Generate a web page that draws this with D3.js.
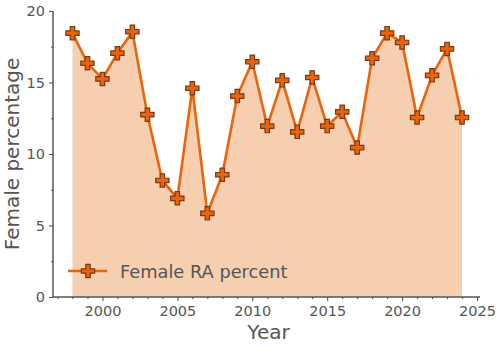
<!DOCTYPE html>
<html>
<head>
<meta charset="utf-8">
<script src="https://cdn.jsdelivr.net/npm/d3@7"></script>
<style>
html,body{margin:0;padding:0;background:#fff;}
svg{display:block;font-family:"DejaVu Sans",sans-serif;}
</style>
</head>
<body>
<svg id="chart" width="500" height="348"></svg>
<script>
const years = [1998,1999,2000,2001,2002,2003,2004,2005,2006,2007,2008,2009,2010,2011,2012,2013,2014,2015,2016,2017,2018,2019,2020,2021,2022,2023,2024];
const femalePct = [18.45,16.35,15.25,17.05,18.55,12.75,8.15,6.9,14.6,5.85,8.55,14.05,16.45,11.95,15.15,11.55,15.35,11.95,12.95,10.45,16.7,18.45,17.8,12.55,15.5,17.35,12.55];
const xTicks = [2000,2005,2010,2015,2020,2025];
const yTicks = [0,5,10,15,20];
const seriesName = "Female RA percent";
const xLabel = "Year";
const yLabel = "Female percentage";

const svg = d3.select("#chart");
const x = d3.scaleLinear().domain([1996.7, 2025.2]).range([53, 480]);
const y = d3.scaleLinear().domain([0, 20]).range([297, 11]);

const lineColor = "#e8650c", fillColor = "#f6cfb1", edgeColor = "#7e3710", textColor = "#555555";

// area
svg.append("path")
  .datum(years.map((d,i)=>[d,femalePct[i]]))
  .attr("fill", fillColor)
  .attr("d", d3.area().x(d=>x(d[0])).y0(y(0)).y1(d=>y(d[1])));

// line
svg.append("path")
  .datum(years.map((d,i)=>[d,femalePct[i]]))
  .attr("fill","none").attr("stroke",lineColor).attr("stroke-width",2.6)
  .attr("stroke-linejoin","round")
  .attr("d", d3.line().x(d=>x(d[0])).y(d=>y(d[1])));

const sym = d3.symbol().type(d3.symbolCross).size(98);
svg.append("g").selectAll("path").data(years.map((d,i)=>[d,femalePct[i]])).join("path")
  .attr("transform", d=>`translate(${x(d[0])},${y(d[1])})`)
  .attr("d", sym)
  .attr("fill", lineColor).attr("stroke", edgeColor).attr("stroke-width",1.2);

// axes
const xAxis = svg.append("g").attr("transform",`translate(0,${y(0)})`)
  .call(d3.axisBottom(x).tickValues(xTicks).tickFormat(d3.format("d")).tickSize(4).tickPadding(5));
const xMinor = svg.append("g").attr("transform",`translate(0,${y(0)})`)
  .call(d3.axisBottom(x).tickValues(d3.range(1997,2026).filter(v=>v%5!==0)).tickFormat("").tickSize(2));
const yAxis = svg.append("g").attr("transform",`translate(${x.range()[0]},0)`)
  .call(d3.axisLeft(y).tickValues(yTicks).tickSize(4).tickPadding(4));
const yMinor = svg.append("g").attr("transform",`translate(${x.range()[0]},0)`)
  .call(d3.axisLeft(y).tickValues([2.5,7.5,12.5,17.5]).tickFormat("").tickSize(2));

[xAxis,xMinor,yAxis,yMinor].forEach(g=>{
  g.selectAll(".domain").attr("stroke",textColor).attr("stroke-width",1.5);
  g.selectAll(".tick line").attr("stroke",textColor).attr("stroke-width",1.1);
  g.selectAll(".tick text").attr("fill",textColor).attr("font-size",14.5).attr("font-family","DejaVu Sans");
});
xMinor.select(".domain").remove();
yMinor.select(".domain").remove();
xAxis.select(".domain").attr("d",`M${x.range()[0]},0H${x.range()[1]}`);
yAxis.select(".domain").attr("d",`M0,${y(0)}V${y(20)}`);

// axis labels
svg.append("text").attr("x",(x.range()[0]+x.range()[1])/2 + 2).attr("y",339)
  .attr("text-anchor","middle").attr("fill",textColor).attr("font-size",20).text(xLabel);
svg.append("text").attr("transform",`translate(19,154) rotate(-90)`)
  .attr("text-anchor","middle").attr("fill",textColor).attr("font-size",20).text(yLabel);

// legend
const lg = svg.append("g").attr("transform","translate(0,271)");
lg.append("line").attr("x1",68).attr("x2",107).attr("y1",0).attr("y2",0)
  .attr("stroke",lineColor).attr("stroke-width",2.6);
lg.append("path").attr("transform","translate(88,0)").attr("d",sym)
  .attr("fill",lineColor).attr("stroke",edgeColor).attr("stroke-width",1.2);
lg.append("text").attr("x",120).attr("y",6.5).attr("fill",textColor).attr("font-size",17.8).text(seriesName);
</script>
</body>
</html>
